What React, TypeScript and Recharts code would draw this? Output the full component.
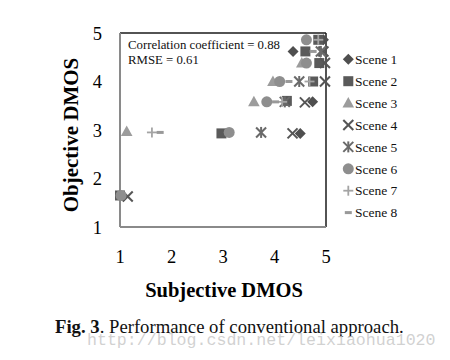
import React from 'react';
import { ScatterChart, Scatter, XAxis, YAxis, ReferenceLine } from 'recharts';

// ---------- data ----------
const sceneNames = ['Scene 1', 'Scene 2', 'Scene 3', 'Scene 4', 'Scene 5', 'Scene 6', 'Scene 7', 'Scene 8'];

const scene1 = [
  { x: 4.5, y: 2.93 },
  { x: 4.74, y: 3.58 },
  { x: 4.36, y: 4.62 },
  { x: 4.95, y: 4.86 },
];
const scene2 = [
  { x: 1.0, y: 1.65 },
  { x: 2.97, y: 2.93 },
  { x: 4.24, y: 3.6 },
  { x: 4.75, y: 4.0 },
  { x: 4.87, y: 4.38 },
  { x: 4.6, y: 4.62 },
  { x: 4.85, y: 4.86 },
];
const scene3 = [
  { x: 1.13, y: 2.97 },
  { x: 3.6, y: 3.58 },
  { x: 3.97, y: 4.0 },
  { x: 4.53, y: 4.38 },
];
const scene4 = [
  { x: 1.15, y: 1.63 },
  { x: 4.35, y: 2.93 },
  { x: 4.59, y: 3.57 },
  { x: 4.98, y: 4.0 },
  { x: 4.98, y: 4.38 },
  { x: 4.95, y: 4.62 },
];
const scene5 = [
  { x: 3.74, y: 2.95 },
  { x: 4.2, y: 3.58 },
  { x: 4.48, y: 4.0 },
  { x: 4.9, y: 4.62 },
];
const scene6 = [
  { x: 1.02, y: 1.65 },
  { x: 3.12, y: 2.95 },
  { x: 3.85, y: 3.58 },
  { x: 4.1, y: 4.0 },
  { x: 4.62, y: 4.38 },
  { x: 4.62, y: 4.86 },
];
const scene7 = [
  { x: 1.62, y: 2.95 },
  { x: 4.15, y: 3.58 },
  { x: 4.68, y: 4.0 },
  { x: 4.85, y: 4.86 },
];
const scene8 = [
  { x: 1.78, y: 2.95 },
  { x: 4.02, y: 3.58 },
  { x: 4.28, y: 4.0 },
  { x: 4.75, y: 4.62 },
];
const sceneData = [scene1, scene2, scene3, scene4, scene5, scene6, scene7, scene8];

const xTicks = [1, 2, 3, 4, 5];
const yTicks = [1, 2, 3, 4, 5];
const xTitle = 'Subjective DMOS';
const yTitle = 'Objective DMOS';
const correlationText = 'Correlation coefficient = 0.88';
const rmseText = 'RMSE = 0.61';
const captionBold = 'Fig. 3';
const captionRest = '. Performance of conventional approach.';
const watermark = 'http://blog.csdn.net/leixiaohua1020';

// ---------- styles ----------
type Kind = 'diamond' | 'square' | 'triangle' | 'x' | 'asterisk' | 'circle' | 'plus' | 'dash';
const seriesStyle: { kind: Kind; color: string }[] = [
  { kind: 'diamond', color: '#4f4f4f' },
  { kind: 'square', color: '#5a5a5a' },
  { kind: 'triangle', color: '#9c9c9c' },
  { kind: 'x', color: '#555555' },
  { kind: 'asterisk', color: '#6a6a6a' },
  { kind: 'circle', color: '#8e8e8e' },
  { kind: 'plus', color: '#a4a4a4' },
  { kind: 'dash', color: '#999999' },
];

const SERIF = '"Liberation Serif", "Times New Roman", serif';

function Glyph({ cx, cy, kind, color }: { cx: number; cy: number; kind: Kind; color: string }) {
  if (cx == null || cy == null) return null;
  switch (kind) {
    case 'diamond':
      return <polygon points={`${cx},${cy - 5.5} ${cx + 5.5},${cy} ${cx},${cy + 5.5} ${cx - 5.5},${cy}`} fill={color} />;
    case 'square':
      return <rect x={cx - 5} y={cy - 5} width={10} height={10} fill={color} />;
    case 'triangle':
      return <polygon points={`${cx},${cy - 6} ${cx + 5.8},${cy + 4.5} ${cx - 5.8},${cy + 4.5}`} fill={color} />;
    case 'x':
      return (
        <g stroke={color} strokeWidth={2}>
          <line x1={cx - 5} y1={cy - 5} x2={cx + 5} y2={cy + 5} />
          <line x1={cx - 5} y1={cy + 5} x2={cx + 5} y2={cy - 5} />
        </g>
      );
    case 'asterisk':
      return (
        <g stroke={color} strokeWidth={2}>
          <line x1={cx - 5} y1={cy - 5} x2={cx + 5} y2={cy + 5} />
          <line x1={cx - 5} y1={cy + 5} x2={cx + 5} y2={cy - 5} />
          <line x1={cx} y1={cy - 5.5} x2={cx} y2={cy + 5.5} />
        </g>
      );
    case 'circle':
      return <circle cx={cx} cy={cy} r={5.5} fill={color} />;
    case 'plus':
      return (
        <g stroke={color} strokeWidth={1.8}>
          <line x1={cx - 5} y1={cy} x2={cx + 5} y2={cy} />
          <line x1={cx} y1={cy - 5} x2={cx} y2={cy + 5} />
        </g>
      );
    case 'dash':
      return <rect x={cx - 3.5} y={cy - 1.5} width={7} height={3} fill={color} />;
  }
  return null;
}

export default function App() {
  return (
    <div style={{ position: 'absolute', left: 0, top: 0, width: 450, height: 360, background: '#fff' }}>
      <ScatterChart width={450} height={360} margin={{ top: 33, right: 124, bottom: 103, left: 60 }}>
        <XAxis
          type="number"
          dataKey="x"
          domain={[1, 5]}
          ticks={xTicks}
          tickLine={false}
          tickSize={0}
          tickMargin={23}
          height={30}
          axisLine={{ stroke: '#8a8a8a', strokeWidth: 2 }}
          tick={{ fill: '#000', fontSize: 18.5, fontFamily: SERIF }}
        />
        <YAxis
          type="number"
          dataKey="y"
          domain={[1, 5]}
          ticks={yTicks}
          tickLine={false}
          tickSize={0}
          tickMargin={18}
          width={60}
          axisLine={{ stroke: '#8a8a8a', strokeWidth: 2 }}
          tick={{ fill: '#000', fontSize: 18.5, fontFamily: SERIF }}
        />
        <ReferenceLine y={5} stroke="#1a1a1a" strokeWidth={1.5} />
        <ReferenceLine x={5} stroke="#1a1a1a" strokeWidth={1.5} />
        {sceneData.map((d, i) => (
          <Scatter
            key={sceneNames[i]}
            name={sceneNames[i]}
            data={d}
            isAnimationActive={false}
            shape={(p: any) => <Glyph cx={p.cx} cy={p.cy} kind={seriesStyle[i].kind} color={seriesStyle[i].color} />}
          />
        ))}
      </ScatterChart>
      <svg width={450} height={360} style={{ position: 'absolute', left: 0, top: 0, pointerEvents: 'none' }}>
        <text x={128} y={49.3} fontFamily={SERIF} fontSize={12.8} fill="#111">{correlationText}</text>
        <text x={128} y={64} fontFamily={SERIF} fontSize={12.8} fill="#111">{rmseText}</text>
        <text
          x={78}
          y={135}
          transform="rotate(-90 78 135)"
          textAnchor="middle"
          fontFamily={SERIF}
          fontWeight="bold"
          fontSize={21}
          fill="#000"
        >
          {yTitle}
        </text>
        <text x={224} y={297.3} textAnchor="middle" fontFamily={SERIF} fontWeight="bold" fontSize={20.5} fill="#000">
          {xTitle}
        </text>
        {sceneNames.map((name, i) => (
          <g key={name}>
            <Glyph cx={348.3} cy={59.3 + i * 21.9} kind={seriesStyle[i].kind} color={seriesStyle[i].color} />
            <text x={355} y={64 + i * 21.9} fontFamily={SERIF} fontSize={13.5} fill="#111">{name}</text>
          </g>
        ))}
        <text x={55} y={333} fontFamily={SERIF} fontSize={18.7} fill="#111">
          <tspan fontWeight="bold">{captionBold}</tspan>
          <tspan>{captionRest}</tspan>
        </text>
        <text x={87} y={345} fontFamily='"Liberation Mono", "DejaVu Sans Mono", monospace' fontSize={16.6} fill="#c9c9c9" fillOpacity={0.85}>
          {watermark}
        </text>
      </svg>
    </div>
  );
}
